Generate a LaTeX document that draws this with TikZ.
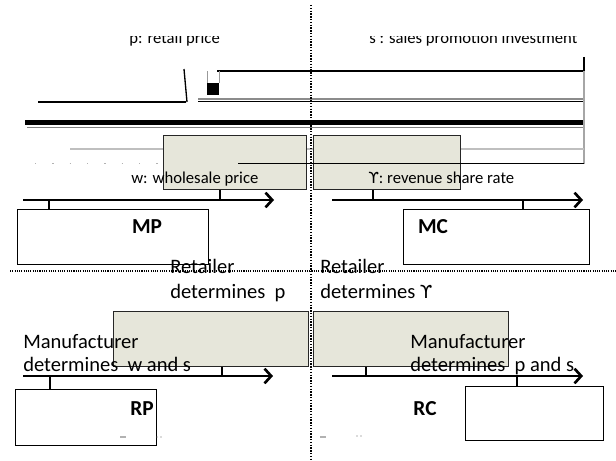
\documentclass[tikz,border=0pt]{standalone}
\usepackage{fontspec}
\setmainfont{Carlito}
\newfontfamily\symfont{DejaVu Sans}
\usetikzlibrary{arrows.meta}
\definecolor{boxfill}{RGB}{230,230,218}
\begin{document}
\begin{tikzpicture}[x=0.75pt,y=-0.75pt,
  sz/.style 2 args={minimum width=#1*0.75pt, minimum height=#2*0.75pt},
  gbox/.style={draw=black!85, fill=boxfill, line width=1pt, inner sep=0pt, anchor=north west},
  wbox/.style={draw=black, fill=white, line width=1pt, inner sep=0pt, anchor=north west},
  axisline/.style={line width=2pt, -{Straight Barb[length=5pt,width=11pt]}},
  tickline/.style={line width=1.5pt},
  lbl/.style={anchor=base west, inner sep=0pt, font=\fontsize{12.5}{15}\selectfont},
  big/.style={anchor=base west, inner sep=0pt, font=\fontsize{15.4}{18}\selectfont},
  tag/.style={inner sep=0pt, font=\fontsize{16}{19}\selectfont\bfseries},
  vdots/.style={line width=1pt, dash pattern=on 1pt off 1.1pt},
]
\fill[white] (0,0) rectangle (616,460);
\useasboundingbox (0,0) rectangle (616,460);

% clipped top labels
\node[lbl] (tp) at (129,44) {p: retail price};
\node[lbl] (ts) at (369,44) {s : sales promotion investment};
\fill[white] (0,0) rectangle (616,36);
\fill[white] (586,36) rectangle (616,50);

% broken top lines
\draw[line width=1pt] (217,71) -- (584,71);
\draw[black!40, line width=0.6pt] (207,83) -- (207,71) (219,71) -- (219,83);
\fill (207,83) rectangle (219,95);
\draw[line width=1pt] (184,69) -- (187,102);
\draw[line width=1pt] (38,102) -- (186,102);
\draw[black!45, line width=1pt] (198,99) -- (584,99);
\draw[line width=1pt] (198,101.5) -- (584,101.5);
\fill (25,120) rectangle (584,125);
\draw[black!50, line width=0.8pt] (27,127.5) -- (584,127.5);
\draw[line width=1pt] (584,57) -- (584,71);
\draw[black!35, line width=0.8pt] (584,71) -- (584,164);
\draw[black!25, line width=1pt] (70,149) -- (584,149);
\draw[black!30, line width=0.8pt, dash pattern=on 1pt off 12pt] (35,163.5) -- (236,163.5);

% upper shaded boxes
\node[gbox, sz={143}{54}] (g1) at (163,135) {};
\node[gbox, sz={147}{54}] (g2) at (313,135) {};
\draw[line width=1.3pt] (238,163.5) -- (584,163.5);

\node[lbl] (tw) at (131,183) {w: wholesale price};
\node[lbl] (tg) at (368,183) {{\symfont\fontsize{11.5}{14}\selectfont ϒ}: revenue share rate};

% upper left timeline
\coordinate (a1s) at (23,200);
\coordinate (a1e) at (274,200);
\coordinate (t1a) at (49,200);
\coordinate (t1b) at (220,200);
\node[wbox, sz={191}{55}] (MP) at (17,209) {};
\node[tag] (MPl) at (147,227) {MP};
\draw[axisline] (a1s) -- (a1e);
\draw[tickline] (t1a) -- (t1a |- MP.north);
\draw[tickline] (t1b) -- (t1b |- g1.south);

% upper right timeline
\coordinate (a2s) at (332,200);
\coordinate (a2e) at (583,200);
\coordinate (t2a) at (373,200);
\coordinate (t2b) at (523,200);
\node[wbox, sz={186}{55}] (MC) at (403,209) {};
\node[tag] (MCl) at (433,227) {MC};
\draw[axisline] (a2s) -- (a2e);
\draw[tickline] (t2a) -- (t2a |- g2.south);
\draw[tickline] (t2b) -- (t2b |- MC.north);

% horizontal divider
\draw[line width=0.8pt, dash pattern=on 0.8pt off 0.9pt] (10,271) -- (616,271);

% lower shaded boxes
\node[gbox, sz={195}{55}] (g3) at (113,311) {};
\node[gbox, sz={195}{55}] (g4) at (313,311) {};

\node[big] (r1) at (170,273) {Retailer};
\node[big] (r2) at (170,298) {determines~ p};
\node[big] (r3) at (320,273) {Retailer};
\node[big] (r4) at (320,298) {determines {\symfont\fontsize{13.5}{16}\selectfont ϒ}};

\node[big] (m1) at (23,348) {Manufacturer};
\node[big] (m2) at (23,371) {determines~ w and s};
\node[big] (m3) at (410,348) {Manufacturer};
\node[big] (m4) at (410,371) {determines~ p and s};

% lower left timeline
\coordinate (a3s) at (23,376);
\coordinate (a3e) at (273,376);
\coordinate (t3a) at (50,376);
\coordinate (t3b) at (222,376);
\node[wbox, sz={141}{56}] (RP) at (15,389) {};
\node[tag] (RPl) at (142,409) {RP};
\draw[axisline] (a3s) -- (a3e);
\draw[tickline] (t3a) -- (t3a |- RP.north);
\draw[tickline] (t3b) -- (t3b |- g3.south);

% lower right timeline
\coordinate (a4s) at (332,376);
\coordinate (a4e) at (583,376);
\coordinate (t4a) at (366,376);
\coordinate (t4b) at (517,376);
\node[wbox, sz={138}{54}] (RC) at (465,386) {};
\node[tag] (RCl) at (425,409) {RC};
\draw[axisline] (a4s) -- (a4e);
\draw[tickline] (t4a) -- (t4a |- g4.south);
\draw[tickline] (t4b) -- (t4b |- RC.north);

% small stray marks
\draw[black!30, line width=0.8pt] (120,437) -- (126,437) (320,437) -- (326,437);
\fill[black!60] (157,437) circle (0.7) (161,437) circle (0.7) (357,436) circle (0.7) (361,436) circle (0.7);

% vertical divider
\draw[vdots] (311,5) -- (311,460);
\end{tikzpicture}
\end{document}
